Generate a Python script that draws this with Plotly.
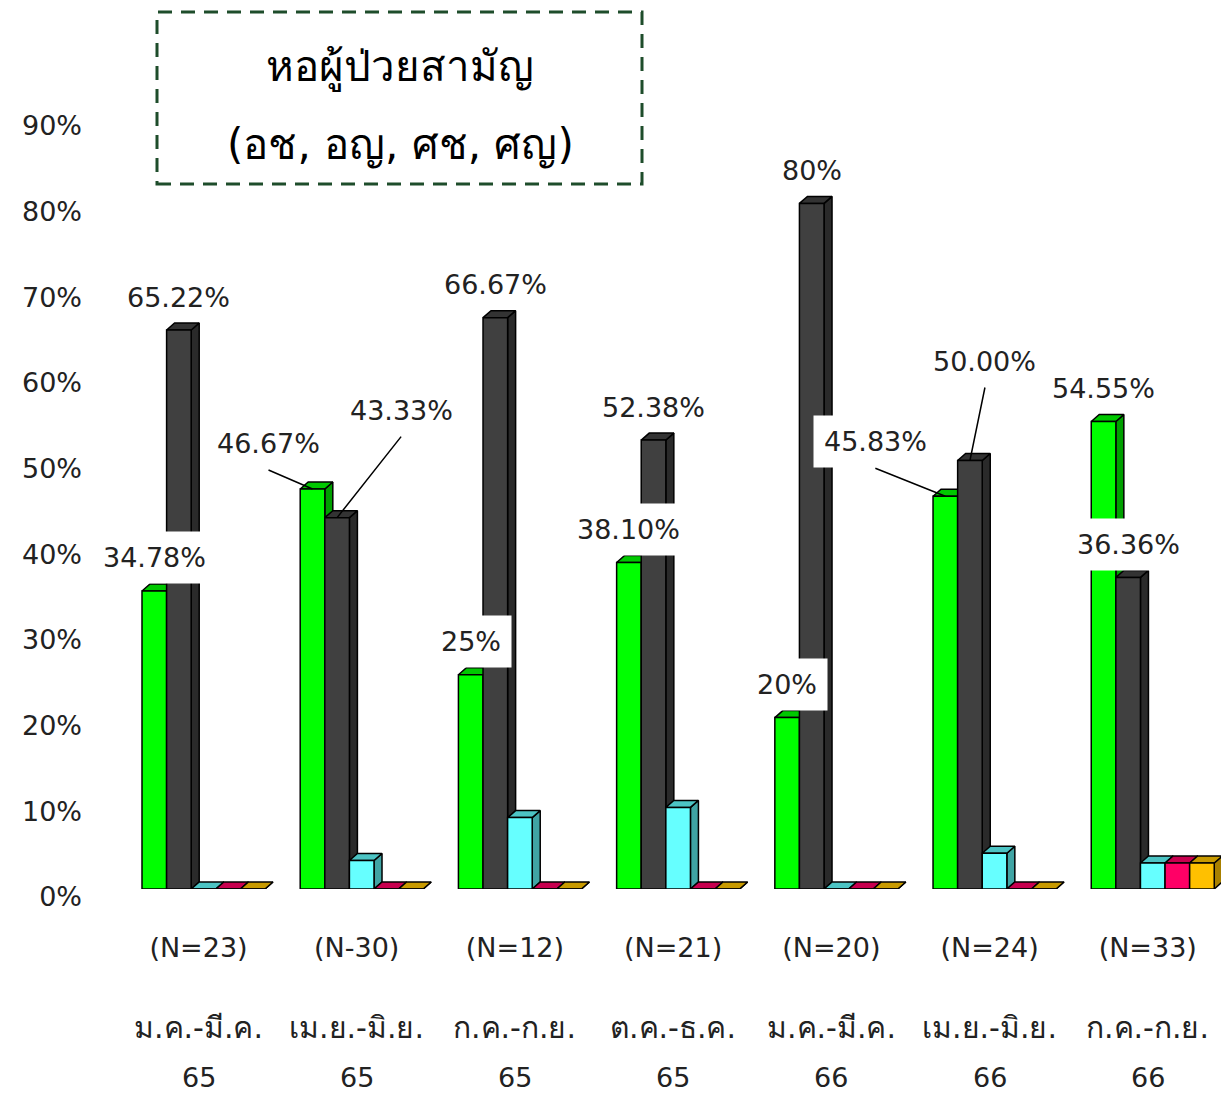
import plotly.graph_objects as go

# ---- data -------------------------------------------------------------
sample_sizes = ["(N=23)", "(N-30)", "(N=12)", "(N=21)", "(N=20)", "(N=24)", "(N=33)"]
periods = ["ม.ค.-มี.ค.", "เม.ย.-มิ.ย.", "ก.ค.-ก.ย.", "ต.ค.-ธ.ค.",
           "ม.ค.-มี.ค.", "เม.ย.-มิ.ย.", "ก.ค.-ก.ย."]
years = ["65", "65", "65", "65", "66", "66", "66"]

# percentages per series (one value per period)
green_pct = [34.78, 46.67, 25.00, 38.10, 20.00, 45.83, 54.55]
gray_pct = [65.22, 43.33, 66.67, 52.38, 80.00, 50.00, 36.36]
cyan_pct = [0.00, 3.33, 8.33, 9.52, 0.00, 4.17, 3.03]
red_pct = [0.00, 0.00, 0.00, 0.00, 0.00, 0.00, 3.03]
gold_pct = [0.00, 0.00, 0.00, 0.00, 0.00, 0.00, 3.03]

# decimals shown in the value labels
green_decimals = [2, 2, 0, 2, 0, 2, 2]
gray_decimals = [2, 2, 2, 2, 0, 2, 2]

y_tick_values = [0, 10, 20, 30, 40, 50, 60, 70, 80, 90]

title_lines = ["หอผู้ป่วยสามัญ", "(อช, อญ, ศช, ศญ)"]

# ---- styling -----------------------------------------------------------
FONT = "DejaVu Sans, Noto Sans, sans-serif"
FS = 27
TEXT = "#222222"
W, H = 1221, 1094
ML, MR, MT, MB = 105, 0, 32, 205

# face colours: (front, top, side)
series = [
    (green_pct, ("#00FF00", "#00C800", "#00A000")),
    (gray_pct, ("#404040", "#333333", "#2A2A2A")),
    (cyan_pct, ("#66FFFF", "#4CC4C4", "#40A4A4")),
    (red_pct, ("#FF0066", "#C8004F", "#A00040")),
    (gold_pct, ("#FFC000", "#C89A00", "#A88000")),
]

X_RANGE = [-0.591, 6.463]
Y_RANGE = [0, 100]
px_per_x = (W - ML - MR) / (X_RANGE[1] - X_RANGE[0])
px_per_y = (H - MT - MB) / (Y_RANGE[1] - Y_RANGE[0])

BAR_W = 24.6 / px_per_x        # width of a bar front face
SHIFT = 5.0 / px_per_x         # cluster offset from the category tick
DX = 8.0 / px_per_x            # depth of the 3-D effect, horizontal
DY = 7.0 / px_per_y            # depth of the 3-D effect, vertical


def paper_x(px):
    return (px - ML) / (W - ML - MR)


def paper_y(py):
    return (H - MB - py) / (H - MT - MB)


def bar_left(group, idx):
    return group + SHIFT + (idx - 2.5) * BAR_W


fig = go.Figure()

# 3-D looking bars: side face, top face and front face for each series
for s_idx, (values, (c_front, c_top, c_side)) in enumerate(series):
    sx, sy, tx, ty, fx, fy = [], [], [], [], [], []
    for g, v in enumerate(values):
        x0 = bar_left(g, s_idx)
        x1 = x0 + BAR_W
        sx += [x1, x1 + DX, x1 + DX, x1, x1, None]
        sy += [0, DY, v + DY, v, 0, None]
        tx += [x0, x0 + DX, x1 + DX, x1, x0, None]
        ty += [v, v + DY, v + DY, v, v, None]
        fx += [x0, x1, x1, x0, x0, None]
        fy += [0, 0, v, v, 0, None]
    for xs, ys, col in ((sx, sy, c_side), (tx, ty, c_top), (fx, fy, c_front)):
        fig.add_trace(go.Scatter(
            x=xs, y=ys, mode="lines", fill="toself", fillcolor=col,
            line=dict(color="black", width=1.5), hoverinfo="skip",
            showlegend=False,
        ))

# value labels
leaders = {
    (0, 1): (-44, -19),
    (1, 1): (64, -81),
    (0, 5): (-70, -28),
    (1, 5): (15, -73),
}
white_box = {(0, 0), (0, 2), (0, 3), (0, 4), (0, 5), (1, 6)}

annotations = []
for s_idx, (values, decimals) in enumerate(((green_pct, green_decimals),
                                            (gray_pct, gray_decimals))):
    for g, v in enumerate(values):
        text = f"{v:.{decimals[g]}f}%"
        x_front = bar_left(g, s_idx) + BAR_W / 2
        bg = "white" if (s_idx, g) in white_box else "rgba(0,0,0,0)"
        if (s_idx, g) in leaders:
            ax, ay = leaders[(s_idx, g)]
            annotations.append(dict(
                x=x_front, y=v, xref="x", yref="y", text=text,
                showarrow=True, arrowhead=0, arrowwidth=1.5, arrowcolor="black",
                ax=ax, ay=ay, xanchor="center", yanchor="bottom",
                bgcolor=bg, borderpad=10,
                font=dict(family=FONT, size=FS, color=TEXT),
            ))
        else:
            annotations.append(dict(
                x=x_front, y=v, xref="x", yref="y", text=text,
                showarrow=False, yanchor="middle", yshift=33,
                bgcolor=bg, borderpad=10,
                font=dict(family=FONT, size=FS, color=TEXT),
            ))

# period labels under the sample sizes
for g in range(len(periods)):
    annotations.append(dict(
        x=g, y=paper_y(1027), xref="x", yref="paper", text=periods[g],
        showarrow=False, yanchor="middle",
        font=dict(family=FONT, size=30, color=TEXT),
    ))
    annotations.append(dict(
        x=g, y=paper_y(1077), xref="x", yref="paper", text=years[g],
        showarrow=False, yanchor="middle",
        font=dict(family=FONT, size=FS, color=TEXT),
    ))

# title inside a dashed frame
for line, py in zip(title_lines, (67, 145)):
    annotations.append(dict(
        x=paper_x(400), y=paper_y(py), xref="paper", yref="paper", text=line,
        showarrow=False, xanchor="center", yanchor="middle",
        font=dict(family=FONT, size=42, color="black"),
    ))

fig.add_shape(
    type="rect", xref="paper", yref="paper",
    x0=paper_x(157), x1=paper_x(642), y0=paper_y(184), y1=paper_y(12),
    line=dict(color="#1E4D2B", width=3, dash="14px,9px"),
)

fig.update_layout(
    width=W, height=H,
    margin=dict(l=ML, r=MR, t=MT, b=MB),
    paper_bgcolor="white", plot_bgcolor="white",
    annotations=annotations,
    font=dict(family=FONT, size=FS, color=TEXT),
    xaxis=dict(
        range=X_RANGE, tickmode="array",
        tickvals=list(range(len(sample_sizes))), ticktext=sample_sizes,
        showgrid=False, zeroline=False, showline=False, ticks="",
        ticklabelstandoff=40,
        tickfont=dict(family=FONT, size=FS, color=TEXT),
    ),
    yaxis=dict(
        range=Y_RANGE, tickmode="array", tickvals=y_tick_values,
        ticktext=[f"{v}%" for v in y_tick_values],
        showgrid=False, zeroline=False, showline=False, ticks="",
        ticklabelstandoff=22, ticklabelshift=8,
        tickfont=dict(family=FONT, size=FS, color=TEXT),
    ),
)

fig.write_html("out.html")
